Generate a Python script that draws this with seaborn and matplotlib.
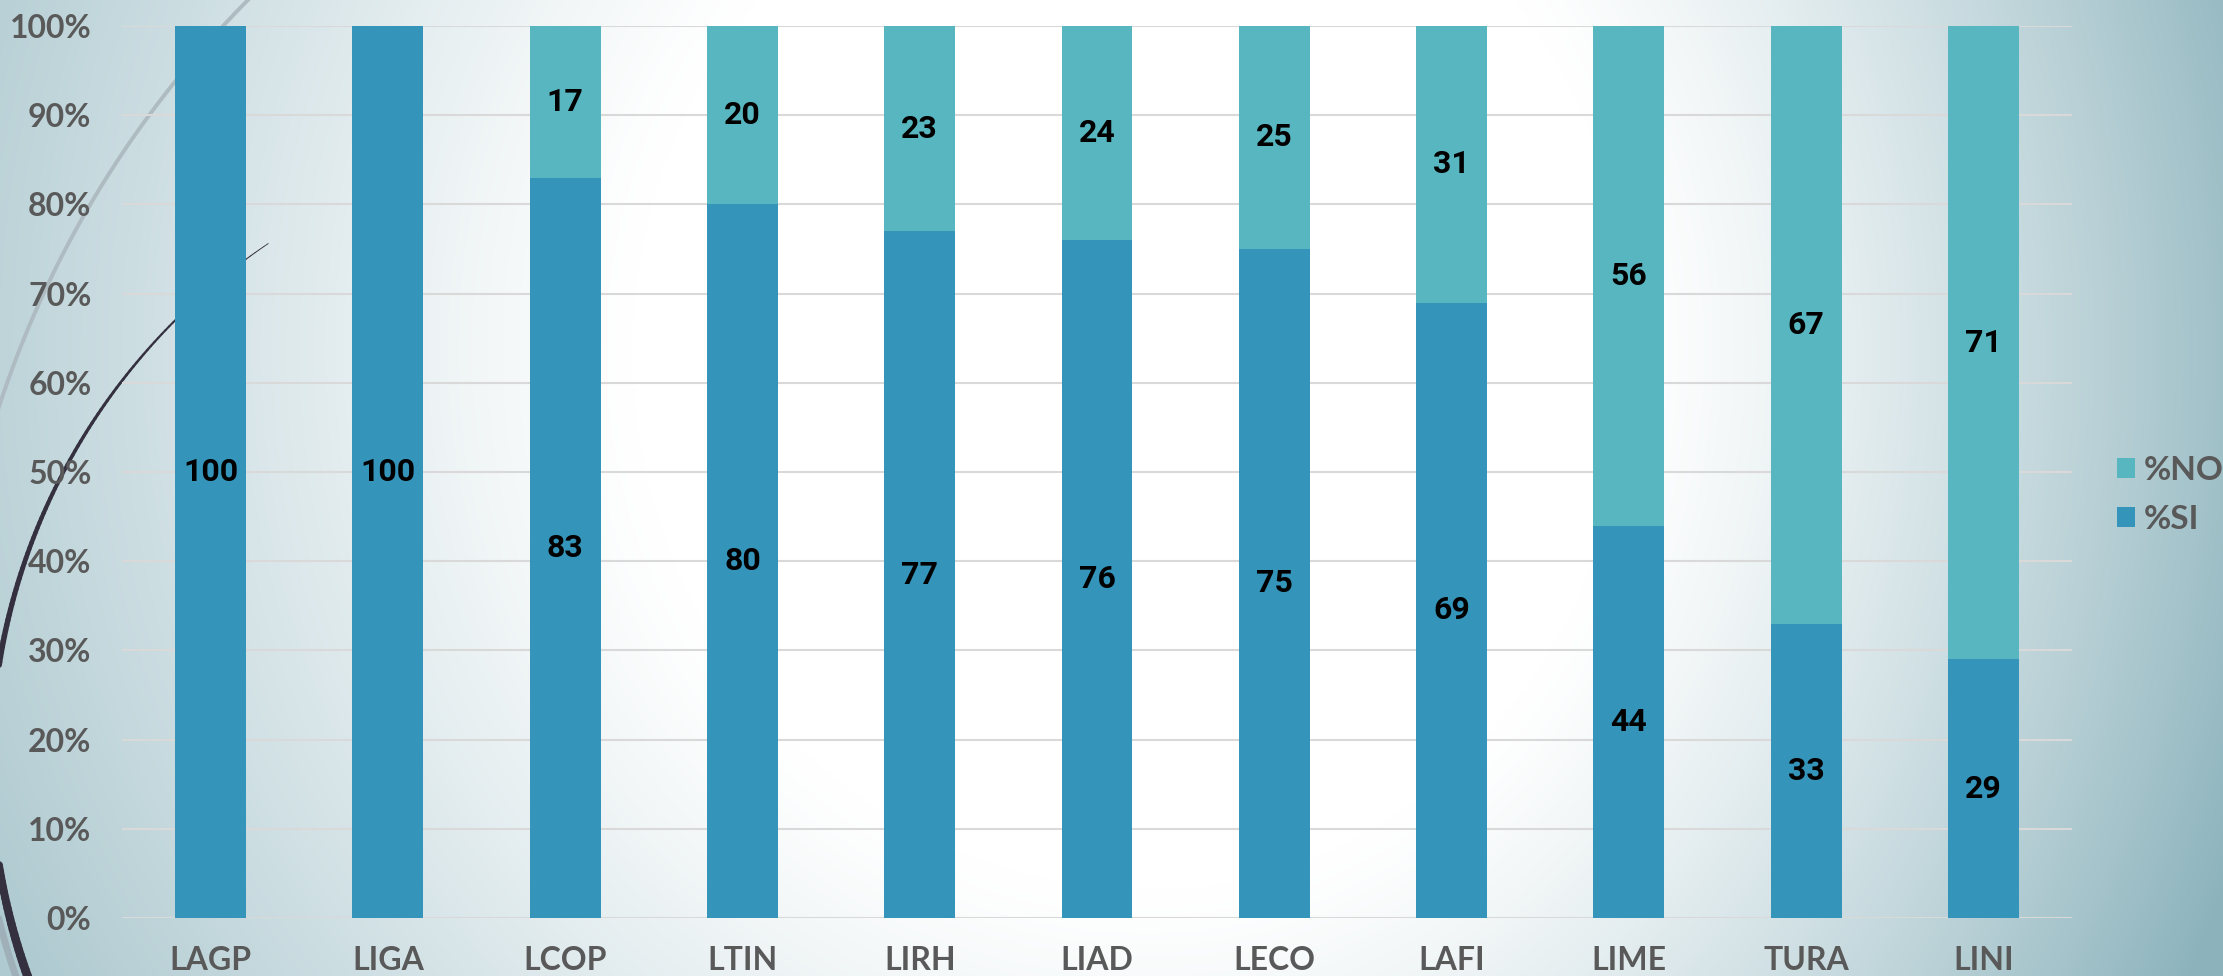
import numpy as np
import pandas as pd
import matplotlib
matplotlib.use("Agg")
import matplotlib.pyplot as plt
from matplotlib.patches import Patch
from matplotlib.collections import LineCollection
from matplotlib.ticker import PercentFormatter
import seaborn as sns

# --- data ---
categories = ["LAGP", "LIGA", "LCOP", "LTIN", "LIRH", "LIAD", "LECO", "LAFI", "LIME", "TURA", "LINI"]
pct_si = [100, 100, 83, 80, 77, 76, 75, 69, 44, 33, 29]
pct_no = [0, 0, 17, 20, 23, 24, 25, 31, 56, 67, 71]

SI_COLOR = "#3494BA"
NO_COLOR = "#58B6C0"
TEXT_GRAY = "#595959"

plt.rcParams['font.family'] = ['Lato', 'DejaVu Sans']

df = pd.DataFrame({"cat": categories, "si": pct_si, "no": pct_no})
df["total"] = df["si"] + df["no"]

W, H = 2223, 976
fig = plt.figure(figsize=(W / 100, H / 100), dpi=100)

# background: white core fading to blue-gray towards the edges (darker on the right)
bg = fig.add_axes([0, 0, 1, 1])
bg.set_xlim(0, W)
bg.set_ylim(H, 0)
bg.axis("off")
yy, xx = np.mgrid[0:H:2, 0:W:2].astype(float)
cx, cy = 1150.0, 350.0
dx = np.where(xx > cx, (xx - cx) * 1.12, (cx - xx) * 1.04)
d = np.sqrt(dx ** 2 + (yy - cy) ** 2)
tmax = 0.66 + 0.29 * (xx / W)
t = tmax * np.clip((d - 540) / 780.0, 0, 1) ** 1.2
edge = np.array([134, 175, 185]) / 255.0
img = 1 - (1 - edge)[None, None, :] * t[..., None]
bg.imshow(img, extent=(0, W, H, 0), aspect="auto", zorder=0, interpolation="bilinear")

# light gray arc
th = np.radians(np.linspace(195, 227, 200))
bg.plot(979 + 1031 * np.cos(th), 727 + 1031 * np.sin(th), color="#aebbc1", lw=2.8, zorder=1)
# gray band near bottom-left
th = np.radians(np.linspace(150, 175, 100))
bg.plot(620 + 640 * np.cos(th), 765 + 640 * np.sin(th), color="#9fb0b8", lw=5, zorder=1)
# dark tapered arc
th = np.radians(np.linspace(236, 158, 160))
px = 620 + 629 * np.cos(th)
py = 765 + 629 * np.sin(th)
segs = np.stack([np.column_stack([px[:-1], py[:-1]]), np.column_stack([px[1:], py[1:]])], axis=1)
widths = np.linspace(0.6, 6.5, len(segs))
bg.add_collection(LineCollection(segs, linewidths=widths, colors="#34303f", zorder=2, capstyle="round"))

# main chart
ax = fig.add_axes([122 / W, 1 - 918 / H, (2072 - 122) / W, (918 - 26) / H])
ax.patch.set_alpha(0)

sns.barplot(data=df, x="cat", y="total", color=NO_COLOR, saturation=1, width=0.4,
            linewidth=0, ax=ax, zorder=3)
sns.barplot(data=df, x="cat", y="si", color=SI_COLOR, saturation=1, width=0.4,
            linewidth=0, ax=ax, zorder=3)

ax.set_ylim(0, 100)
ax.set_xlim(-0.5, len(categories) - 0.5)
ax.set_yticks(np.arange(0, 101, 10))
ax.yaxis.set_major_formatter(PercentFormatter(xmax=100, decimals=0))
ax.set_xlabel("")
ax.set_ylabel("")
ax.grid(axis="y", color="#d9d9d9", linewidth=1.5)
ax.grid(axis="x", visible=False)
ax.set_axisbelow(True)
for s in ax.spines.values():
    s.set_visible(False)
ax.tick_params(axis="y", length=0, pad=22, labelsize=23, labelcolor=TEXT_GRAY)
ax.tick_params(axis="x", length=0, pad=20, labelsize=23, labelcolor=TEXT_GRAY)
for lbl in ax.get_xticklabels() + ax.get_yticklabels():
    lbl.set_fontweight("bold")

# segment labels
for i, (s, n) in enumerate(zip(pct_si, pct_no)):
    if s > 0:
        ax.text(i, s / 2, str(s), ha="center", va="center", fontsize=23,
                fontweight="bold", family=["Roboto", "DejaVu Sans"], color="black", zorder=5)
    if n > 0:
        ax.text(i, s + n / 2, str(n), ha="center", va="center", fontsize=23,
                fontweight="bold", family=["Roboto", "DejaVu Sans"], color="black", zorder=5)

handles = [Patch(facecolor=NO_COLOR, edgecolor="none"), Patch(facecolor=SI_COLOR, edgecolor="none")]
leg = fig.legend(handles=handles, labels=["%NO", "%SI"], loc="center left",
                 bbox_to_anchor=(2117 / W, 1 - 495 / H), frameon=False, fontsize=24,
                 handlelength=0.55, handleheight=0.55, handletextpad=0.25,
                 labelspacing=0.6, borderpad=0, borderaxespad=0)
for txt in leg.get_texts():
    txt.set_color(TEXT_GRAY)
    txt.set_fontweight("bold")

fig.savefig("out.png", dpi=100)
